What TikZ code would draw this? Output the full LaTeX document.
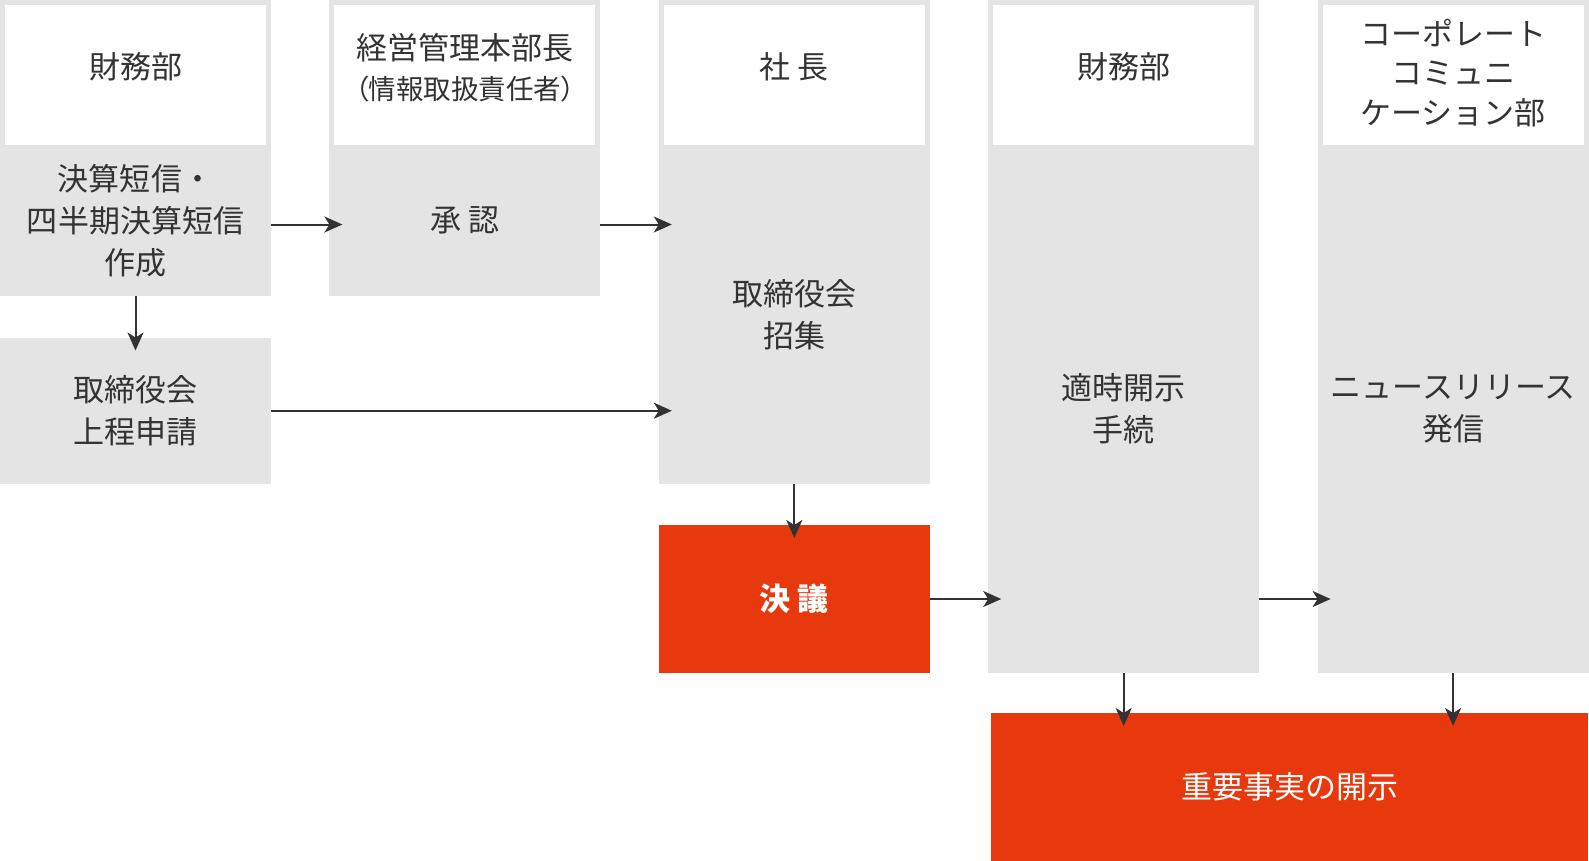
\documentclass[tikz,border=0pt]{standalone}
\usepackage{fontspec}
\setmainfont{Noto Sans CJK JP}
\newfontfamily\jppalt{Noto Sans CJK JP}[RawFeature=+palt]
\usepackage{tikz}
\usetikzlibrary{arrows.meta, positioning}
\definecolor{colgray}{HTML}{E4E4E4}
\definecolor{keyred}{HTML}{E8390E}
\definecolor{ink}{HTML}{333333}

\begin{document}
\begin{tikzpicture}[
  every node/.style={font={\fontsize{31pt}{42pt}\selectfont}, text=ink, inner sep=0pt, outer sep=0pt},
  head/.style={fill=white, draw=colgray, line width=5pt, minimum width=266pt, minimum height=145pt},
  htext/.style={align=center, yshift=8pt},
  task/.style={fill=colgray, minimum width=271pt, align=center},
  key/.style={fill=keyred, text=white, minimum height=148pt, align=center},
  arrow/.style={-{Stealth[length=18pt, width=16pt, inset=5pt]}, line width=2pt, color=ink, shorten >=-13pt},
]
\useasboundingbox (0,0) rectangle (1589pt,-861pt);

% column headers
\node[head, anchor=north west, label={[htext]center:財務部}] (hd1) at (2.5pt,-2.5pt) {};
\node[head, right=63.4pt of hd1, label={[htext, yshift=-1pt]center:経営管理本部長\\[-2pt]{\jppalt\fontsize{27.5pt}{40pt}\selectfont （情報取扱責任者）}}] (hd2) {};
\node[head, right=63.4pt of hd2, label={[htext]center:社 長}] (hd3) {};
\node[head, right=63.4pt of hd3, label={[htext]center:財務部}] (hd4) {};
\node[head, right=63.4pt of hd4, label={[htext, yshift=-6pt, font={\fontsize{31pt}{39.5pt}\selectfont}]center:コーポレート\\コミュニ\\ケーション部}] (hd5) {};

% tasks
\node[task, minimum height=151pt, below=-2.5pt of hd1] (t1) {決算短信・\\四半期決算短信\\作成};
\node[task, minimum height=146.5pt, below=41.5pt of t1] (b2) {取締役会\\上程申請};
\node[task, minimum height=151pt, below=-2.5pt of hd2] (t2) {承 認};
\node[task, minimum height=339pt, below=-2.5pt of hd3] (t3) {取締役会\\招集};
\node[task, minimum height=528pt, below=-2.5pt of hd4] (t4) {適時開示\\手続};
\node[task, minimum height=528pt, below=-2.5pt of hd5] (t5) {ニュースリリース\\発信};

\node[key, minimum width=271pt, below=41pt of t3] (k1) {\bfseries 決 議};
\node[key, minimum width=597pt, below=40pt of t4.south west, anchor=north west, xshift=3pt] (disc) {重要事実の開示};

\draw[arrow] ([yshift=-4pt]t1.east) -- ([yshift=-4pt]t2.west);
\draw[arrow] ([yshift=-4pt]t2.east) -- ([yshift=-4pt]t2.east -| t3.west);
\draw[arrow] (t1) -- (b2);
\draw[arrow] (b2.east) -- (b2.east -| t3.west);
\draw[arrow] (t3) -- (k1);
\draw[arrow] (k1.east) -- (k1.east -| t4.west);
\draw[arrow] (k1.east -| t4.east) -- (k1.east -| t5.west);
\draw[arrow] (t4.south) -- (t4.south |- disc.north);
\draw[arrow] (t5.south) -- (t5.south |- disc.north);

\end{tikzpicture}
\end{document}
